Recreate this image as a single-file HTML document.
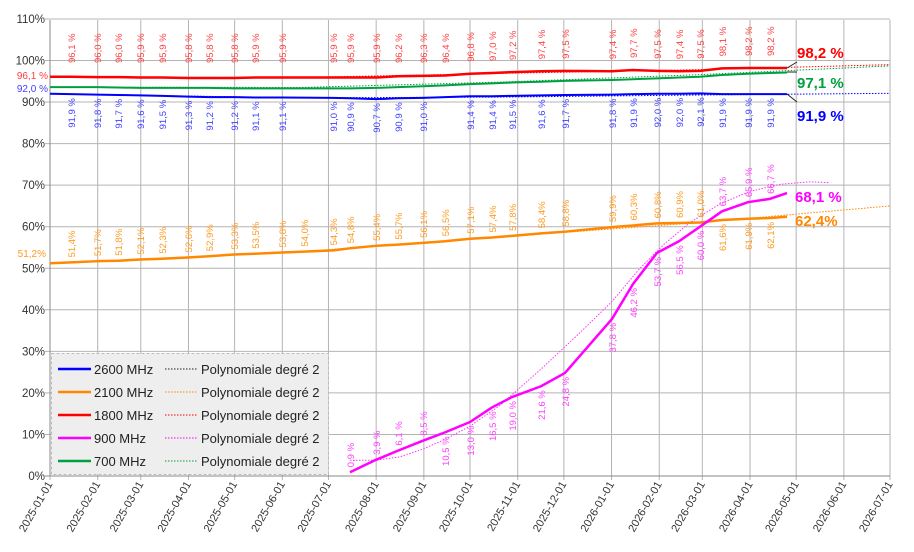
<!DOCTYPE html>
<html><head><meta charset="utf-8"><style>
body{margin:0;background:#fff;width:914px;height:547px;overflow:hidden;font-family:"Liberation Sans",sans-serif}
</style></head><body>
<svg id="s" width="914" height="547" xmlns="http://www.w3.org/2000/svg" font-family="Liberation Sans, sans-serif"></svg>
<script>
const s=document.getElementById('s');let h='';
const Y=v=>476-v*4.155;
const months=[];for(let i=0;i<=18;i++){const d=new Date(Date.UTC(2025,i,1));const days=(d-Date.UTC(2025,0,1))/864e5;months.push([50+days*1.5385,d.toISOString().slice(0,10)]);}
for(let v=0;v<=110;v+=10){h+=`<line x1="45" x2="890" y1="${Y(v)}" y2="${Y(v)}" stroke="#b4b4b4"/>`;h+=`<text x="45" y="${Y(v)+4}" font-size="11.5" text-anchor="end" fill="#333">${v}%</text>`;}
months.forEach(([x,l])=>{h+=`<line x1="${x}" x2="${x}" y1="20" y2="480" stroke="#b4b4b4"/>`;h+=`<text transform="translate(${x+3},484) rotate(-60)" font-size="11" text-anchor="end" fill="#333">${l}</text>`;});
h+=`<line x1="50" x2="50" y1="20" y2="476" stroke="#888"/><line x1="45" x2="890" y1="476" y2="476" stroke="#888"/>`;
const xs=[71,97,118,140,162,188,209,234,255,282,333,350,376,398,423,445,470,492,512,541,565,612,633,657,679,700,722,748,770];
function line(pts,c,w){h+=`<polyline points="${pts.map(p=>p[0]+','+Y(p[1])).join(' ')}" fill="none" stroke="${c}" stroke-width="${w}" stroke-linejoin="round"/>`;}
function dot(pts,c){h+=`<polyline points="${pts.map(p=>p[0]+','+Y(p[1])).join(' ')}" fill="none" stroke="${c}" stroke-width="1" stroke-dasharray="1.5,1.5"/>`;}
function lab(x,v,c,above,sp){const t=v.toFixed(1).replace('.',',')+(sp?' %':'%');const y=Y(v);
 if(above==1)h+=`<text transform="translate(${x+4},${y-5}) rotate(-90)" font-size="9.5" fill="${c}">${t}</text>`;
 else if(above==2)h+=`<text transform="translate(${x+4},${Math.min(y-12,63)}) rotate(-90)" font-size="9.5" fill="${c}">${t}</text>`;
 else h+=`<text transform="translate(${x+4},${y+4}) rotate(-90)" font-size="9.5" fill="${c}" text-anchor="end">${t}</text>`;}
dot([[50,96],[300,95.9],[500,96.9],[700,97.8],[890,99]],'#ff0000');
dot([[50,93.6],[300,93.5],[500,94.8],[700,96.6],[890,98.7]],'#00a040');
dot([[50,92],[300,91],[500,91.2],[700,91.7],[890,92.1]],'#0000ff');
dot([[50,51.2],[300,54],[500,57.5],[700,61],[890,65]],'#ff8800');
const mp=[[350,3.8],[376,3.8],[400,4.6],[423,6.5],[445,8.8],[470,12],[500,17],[540,25.5],[580,34.5],[612,42],[640,50],[665,56],[690,61],[720,65.5],[750,68.5],[780,70.2],[810,70.8],[830,70.6]];
dot(mp,'#ff33ff');
const red=[96.1,96.0,96.0,95.9,95.9,95.8,95.8,95.8,95.9,95.9,95.9,95.9,95.9,96.2,96.3,96.4,96.8,97.0,97.2,97.4,97.5,97.4,97.7,97.5,97.4,97.5,98.1,98.2,98.2];
const blue=[91.9,91.8,91.7,91.6,91.5,91.3,91.2,91.2,91.1,91.1,91.0,90.9,90.7,90.9,91.0,91.2,91.4,91.4,91.5,91.6,91.7,91.8,91.9,92.0,92.0,92.1,91.9,91.9,91.9];
const green=[93.6,93.6,93.5,93.4,93.4,93.4,93.4,93.3,93.3,93.3,93.3,93.3,93.4,93.6,93.8,94.0,94.3,94.5,94.7,94.9,95.1,95.3,95.5,95.7,95.9,96.1,96.5,96.8,97.0];
const orX=[71,97,118,140,162,188,209,234,255,282,304,333,350,376,398,423,445,470,492,512,541,565,612,633,657,679,700,722,748,770];
const orV=[51.4,51.7,51.8,52.1,52.3,52.6,52.9,53.3,53.5,53.8,54.0,54.3,54.8,55.4,55.7,56.1,56.5,57.1,57.4,57.8,58.4,58.8,59.9,60.3,60.8,60.9,61.0,61.6,61.9,62.1];
const mgX=[350,376,398,423,445,470,492,512,541,565,612,633,657,679,700,722,748,770];
const mgV=[0.9,3.9,6.1,8.5,10.5,13.0,16.5,19.0,21.6,24.8,37.8,46.2,53.7,56.5,60.0,63.7,65.9,66.7];
line([[50,96.1],...xs.map((x,i)=>[x,red[i]]),[787,98.2]],'#ff0000',2.5);
line([[50,93.6],...xs.map((x,i)=>[x,green[i]]),[787,97.1]],'#00a040',2);
line([[50,92.0],...xs.map((x,i)=>[x,blue[i]]),[787,91.9]],'#0000ff',2);
line([[50,51.2],...orX.map((x,i)=>[x,orV[i]]),[787,62.4]],'#ff8800',2.5);
line([...mgX.map((x,i)=>[x,mgV[i]]),[787,68.1]],'#ff00ff',2.5);
xs.forEach((x,i)=>{lab(x,red[i],'#ff4040',2,1);if(x!=445)lab(x,blue[i],'#4040ff',0,1);});
orX.forEach((x,i)=>lab(x,orV[i],'#ff9a20',i>=27?0:1,0));
mgX.forEach((x,i)=>lab(x,mgV[i],'#ff40ff',(i<4||i>=15)?1:0,1));
h+=`<text x="48" y="79" font-size="10" text-anchor="end" fill="#ff4040">96,1 %</text><text x="48" y="92" font-size="10" text-anchor="end" fill="#4040ff">92,0 %</text><text x="46" y="257" font-size="10" text-anchor="end" fill="#ff9a20">51,2%</text>`;
h+=`<line x1="787" y1="68" x2="797" y2="62" stroke="#222"/><line x1="787" y1="72" x2="797" y2="72" stroke="#222"/><line x1="787" y1="94" x2="797" y2="102" stroke="#222"/>`;
h+=`<text x="797" y="58" font-size="15" font-weight="bold" fill="#ff0000">98,2 %</text><text x="797" y="88" font-size="15" font-weight="bold" fill="#00a040">97,1 %</text><text x="797" y="121" font-size="15" font-weight="bold" fill="#0000ff">91,9 %</text><text x="795" y="202" font-size="15" font-weight="bold" fill="#ff00ff">68,1 %</text><text x="795" y="226" font-size="15" font-weight="bold" fill="#ff8800">62,4%</text>`;
h+=`<rect x="51.5" y="353.5" width="277" height="121" fill="#eeeeee" stroke="#bbb" stroke-dasharray="3,2"/>`;
[['2600 MHz','#0000ff'],['2100 MHz','#ff8800'],['1800 MHz','#ff0000'],['900 MHz','#ff00ff'],['700 MHz','#00a040']].forEach(([n,c],i)=>{const y=369+i*23;
h+=`<line x1="58" x2="91" y1="${y}" y2="${y}" stroke="${c}" stroke-width="2.5"/><text x="94" y="${y+5}" font-size="13" fill="#222">${n}</text><line x1="165" x2="198" y1="${y}" y2="${y}" stroke="${i==0?'#222':c}" stroke-dasharray="1.5,1.5"/><text x="201" y="${y+5}" font-size="13" fill="#222">Polynomiale degré 2</text>`;});
s.innerHTML=h;
</script>
</body></html>
